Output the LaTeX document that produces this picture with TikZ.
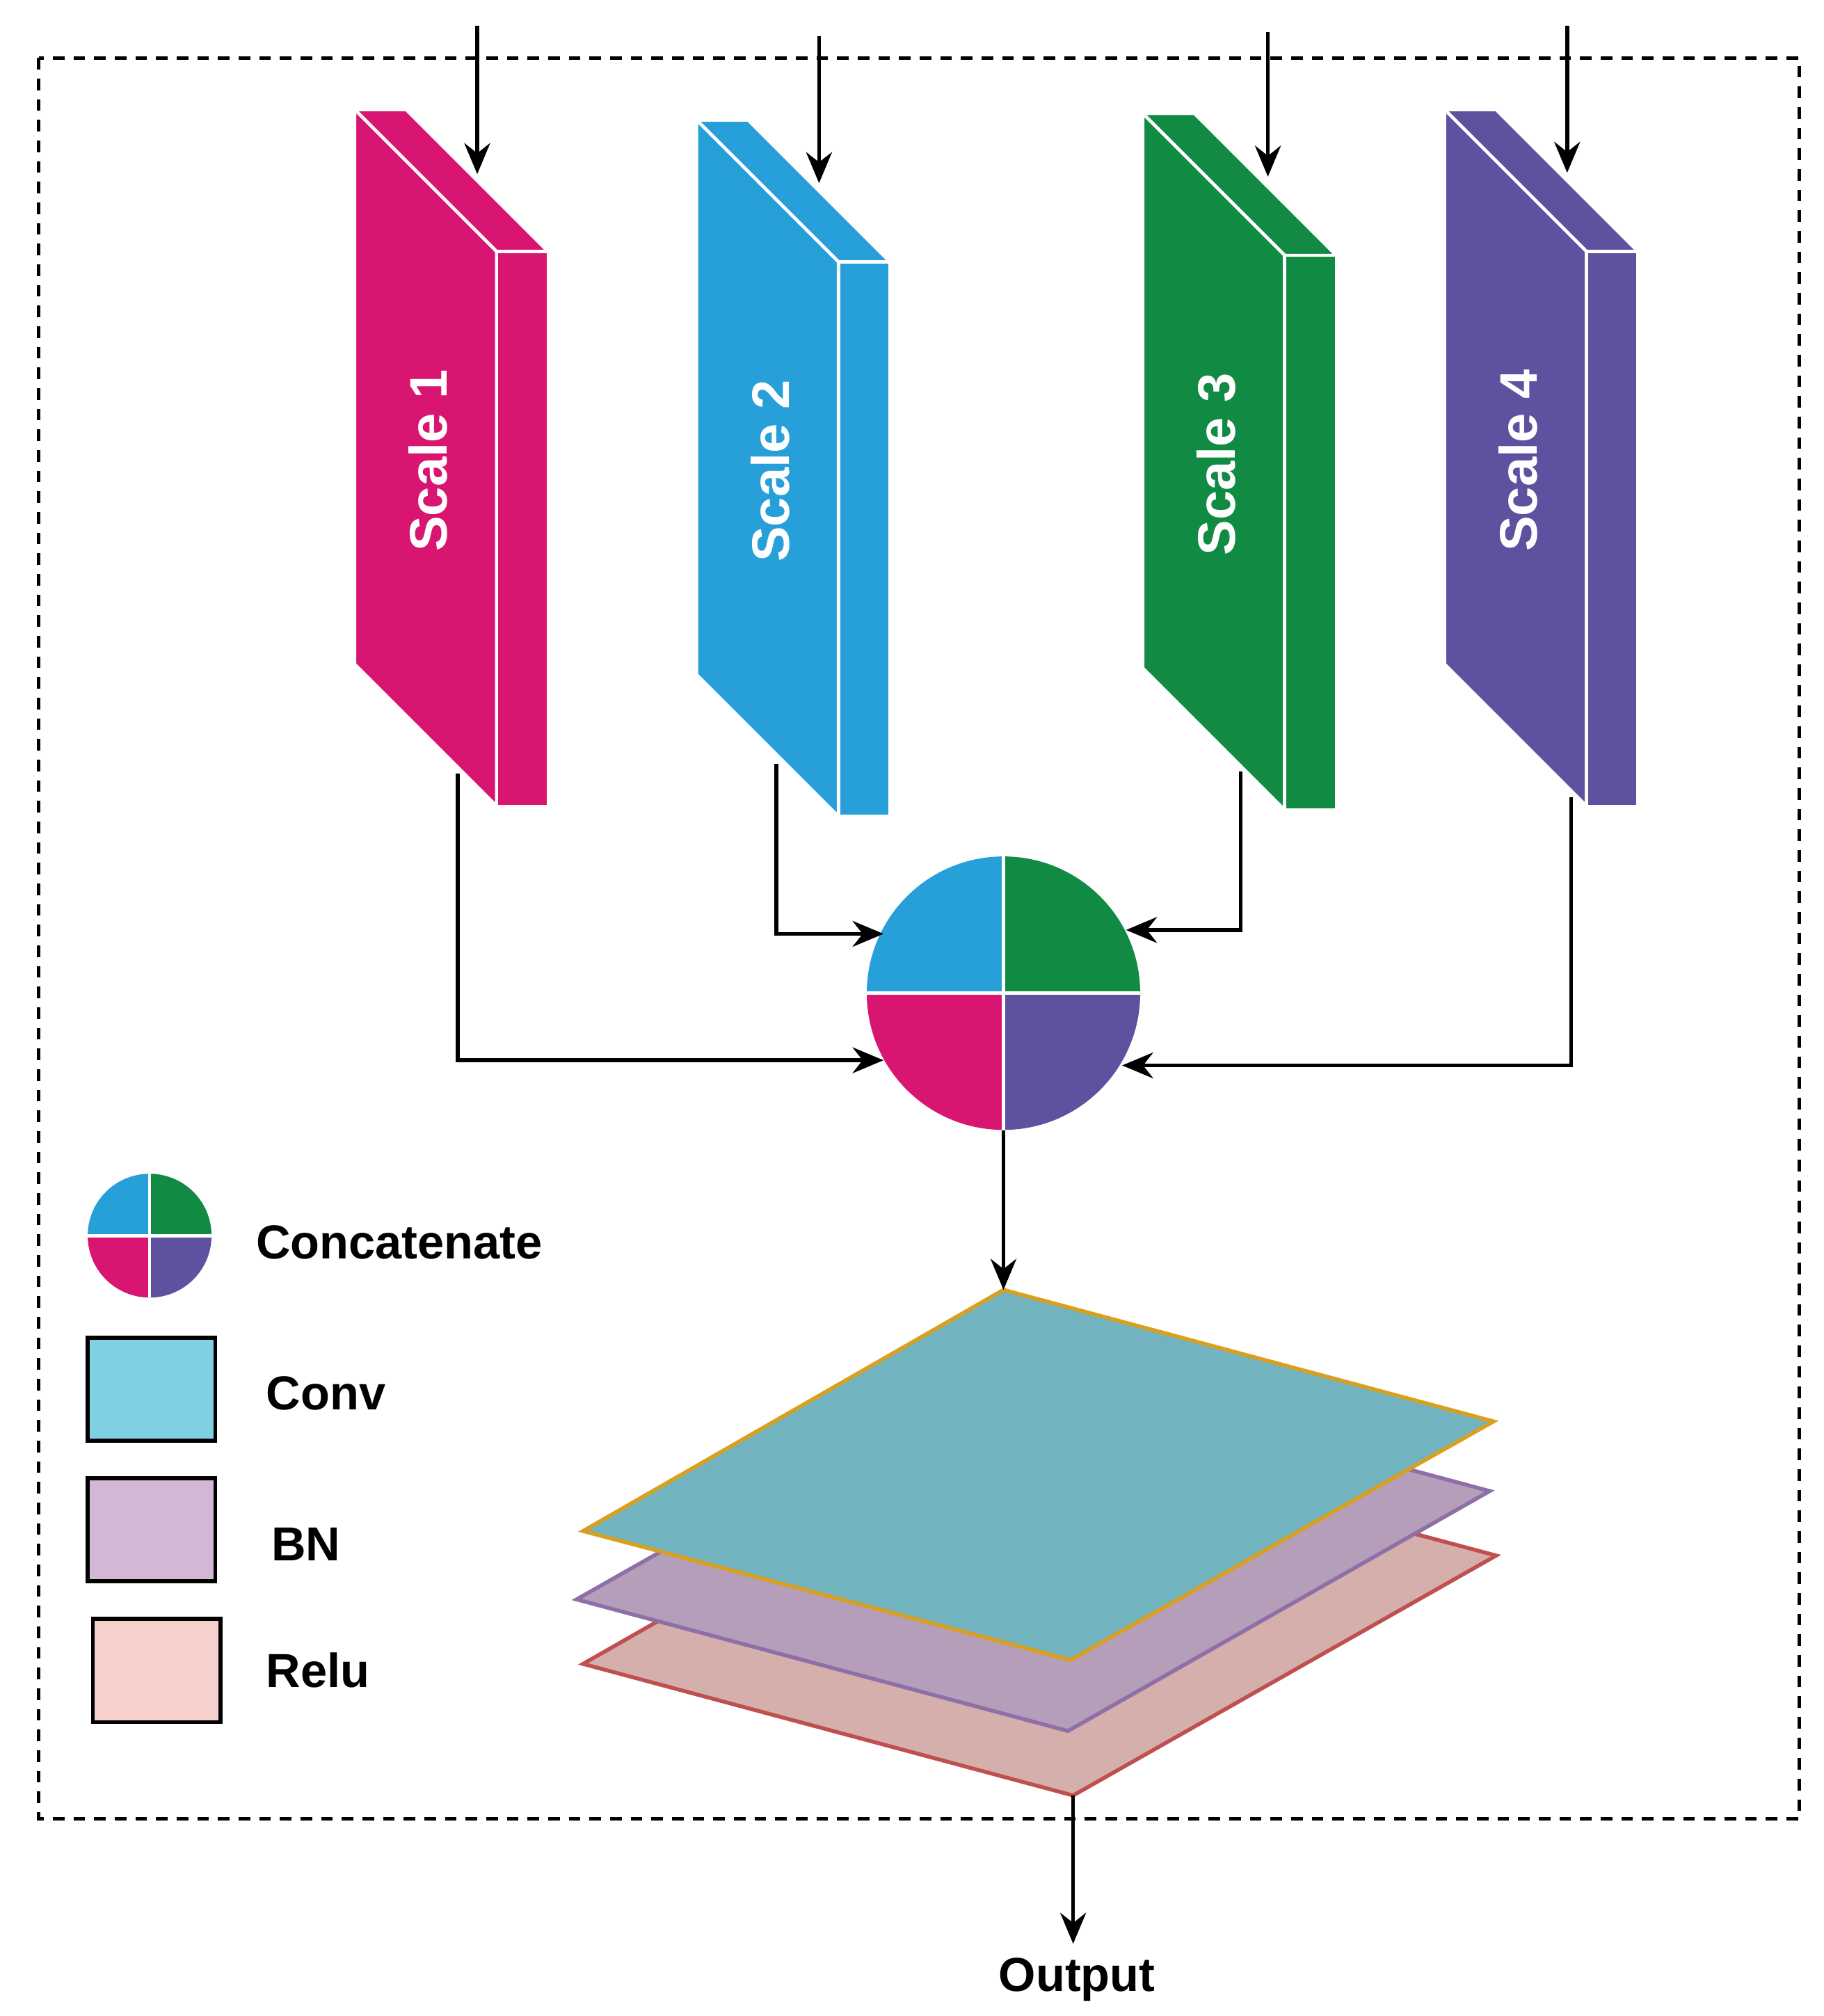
\documentclass[tikz,border=0pt]{standalone}
\usepackage{fontspec}
\setmainfont{Liberation Sans}
\usetikzlibrary{arrows.meta}
\definecolor{cmag}{HTML}{D81570}
\definecolor{cblu}{HTML}{279FD9}
\definecolor{cgrn}{HTML}{118A44}
\definecolor{cpur}{HTML}{5E52A0}
\definecolor{rf}{HTML}{D4AFAB}\definecolor{rd}{HTML}{C05050}
\definecolor{bf}{HTML}{B59EB9}\definecolor{bd}{HTML}{8E6FA8}
\definecolor{cf}{HTML}{72B3C0}\definecolor{cd}{HTML}{D9A020}
\definecolor{lc}{HTML}{7FD0E2}\definecolor{lb}{HTML}{D3B8D6}\definecolor{lr}{HTML}{F5D0CD}
\begin{document}
\begin{tikzpicture}[x=1pt,y=-1pt,
  arr/.style={line width=3pt,-{Stealth[length=24pt,width=20pt]}},
  lbl/.style={font=\bfseries\fontsize{37}{44}\selectfont,anchor=west},
  sc/.style={font=\bfseries\fontsize{41}{48}\selectfont,text=white,rotate=90},
  face/.style={draw=white,line width=2.5pt},
  box/.style={draw=black,line width=3pt}]
\useasboundingbox (0,0) rectangle (1414,1563);
\draw[dashed,line width=2.8pt,dash pattern=on 9pt off 7pt] (30,45) rectangle (1395,1410);
\newcommand{\blk}[5]{%
 \fill[#1,face] (#2,#3) -- ++(40,0) -- ++(110,110) -- ++(-40,0) -- cycle;
 \fill[#1,face] (#2,#3) -- ++(110,110) -- ++(0,430) -- ++(-110,-110) -- cycle;
 \fill[#1,face] (#2+110,#3+110) -- ++(40,0) -- ++(0,430) -- ++(-40,0) -- cycle;
 \node[sc] (#4) at (#2+57,#3+272) {#5};}
\blk{cmag}{275}{85}{s1}{Scale 1}
\blk{cblu}{540}{93}{s2}{Scale 2}
\blk{cgrn}{886}{88}{s3}{Scale 3}
\blk{cpur}{1120}{85}{s4}{Scale 4}
\coordinate (i1) at (370,20); \coordinate (t1) at (370,135);
\coordinate (i2) at (635,28); \coordinate (t2) at (635,142);
\coordinate (i3) at (983,25); \coordinate (t3) at (983,137);
\coordinate (i4) at (1215,20); \coordinate (t4) at (1215,134);
\foreach \k in {1,2,3,4} \draw[arr] (i\k) -- (t\k);
\newcommand{\concat}[3]{%
 \fill[cblu] (#1,#2) -- ++(-#3,0) arc[start angle=180,end angle=270,radius=#3] -- cycle;
 \fill[cgrn] (#1,#2) -- ++(0,-#3) arc[start angle=270,end angle=360,radius=#3] -- cycle;
 \fill[cmag] (#1,#2) -- ++(-#3,0) arc[start angle=180,end angle=90,radius=#3] -- cycle;
 \fill[cpur] (#1,#2) -- ++(#3,0) arc[start angle=0,end angle=90,radius=#3] -- cycle;
 \draw[white,line width=2.5pt] (#1-#3,#2) -- (#1+#3,#2) (#1,#2-#3) -- (#1,#2+#3);}
\concat{778}{770}{106}
\node[circle,minimum size=212pt,inner sep=0] (cc) at (778,770) {};
\coordinate (b1) at (355,600); \coordinate (b2) at (602,592);
\coordinate (b3) at (962,598); \coordinate (b4) at (1218,618);
\draw[arr] (b1) |- (685,822);
\draw[arr] (b2) |- (685,724);
\draw[arr] (b3) |- (873,721);
\draw[arr] (b4) |- (870,826);
\draw[fill=rf,draw=rd,line width=3pt] (778,1104) -- (1160,1206) -- (832,1392) -- (452,1290) -- cycle;
\draw[fill=bf,draw=bd,line width=3pt] (775,1054) -- (1155,1156) -- (828,1342) -- (447,1240) -- cycle;
\draw[fill=cf,draw=cd,line width=3pt] (778,1000) -- (1158,1102) -- (830,1287) -- (452,1187) -- cycle;
\coordinate (ct) at (778,1000);
\draw[arr] (cc.south) -- (ct);
\coordinate (lbo) at (832,1392);
\coordinate (ot) at (832,1507);
\node[font=\bfseries\fontsize{37}{44}\selectfont] (out) at (835,1535) {Output};
\draw[arr] (lbo) -- (ot);
\concat{116}{958}{48}
\node[lbl] (l1) at (195,963) {Concatenate};
\draw[box,fill=lc] (68,1037) rectangle (167,1117);
\node[lbl] (l2) at (203,1080) {Conv};
\draw[box,fill=lb] (68,1146) rectangle (167,1226);
\node[lbl] (l3) at (207,1197) {BN};
\draw[box,fill=lr] (72,1255) rectangle (171,1335);
\node[lbl] (l4) at (203,1295) {Relu};
\end{tikzpicture}
\end{document}
